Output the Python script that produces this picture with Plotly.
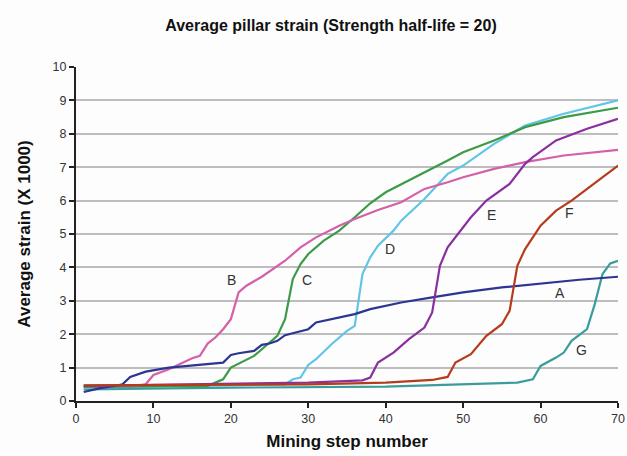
import plotly.graph_objects as go

# Mining step / average strain (x1000) for each pillar layout
steps_a = [1, 3, 5, 6, 7, 9, 12, 16, 19, 20, 21, 23, 24, 25, 26, 27, 29, 30, 31, 33, 36, 38, 42, 46, 50, 55, 60, 65, 70]
strain_a = [0.27, 0.38, 0.45, 0.5, 0.72, 0.88, 1.0, 1.08, 1.15, 1.38, 1.43, 1.5, 1.68, 1.72, 1.8, 1.97, 2.08, 2.15, 2.35, 2.45, 2.6, 2.75, 2.95, 3.1, 3.25, 3.4, 3.52, 3.63, 3.72]

steps_b = [1, 8, 9, 10, 12, 14, 15, 16, 17, 18, 19, 20, 21, 22, 24, 27, 29, 31, 34, 36, 39, 42, 45, 48, 50, 54, 58, 63, 70]
strain_b = [0.45, 0.46, 0.5, 0.78, 0.95, 1.18, 1.28, 1.35, 1.72, 1.9, 2.15, 2.45, 3.25, 3.45, 3.72, 4.2, 4.6, 4.9, 5.25, 5.45, 5.72, 5.95, 6.35, 6.55, 6.7, 6.95, 7.15, 7.35, 7.52]

steps_c = [1, 17, 18, 19, 20, 21, 23, 24, 25, 26, 27, 28, 29, 30, 32, 34, 36, 38, 40, 43, 45, 48, 50, 54, 58, 63, 70]
strain_c = [0.42, 0.45, 0.55, 0.65, 1.0, 1.12, 1.35, 1.55, 1.75, 1.95, 2.45, 3.65, 4.1, 4.4, 4.8, 5.1, 5.5, 5.92, 6.25, 6.6, 6.85, 7.2, 7.45, 7.8, 8.2, 8.5, 8.78]

steps_d = [1, 27, 28, 29, 30, 31, 33, 35, 36, 37, 38, 39, 41, 42, 45, 46, 48, 50, 54, 58, 63, 70]
strain_d = [0.4, 0.5, 0.65, 0.7, 1.08, 1.25, 1.7, 2.1, 2.25, 3.8, 4.3, 4.65, 5.1, 5.4, 6.05, 6.3, 6.8, 7.05, 7.7, 8.25, 8.6, 9.0]

steps_e = [1, 30, 37, 38, 39, 41, 43, 45, 46, 47, 48, 49, 51, 53, 56, 58, 59, 62, 66, 70]
strain_e = [0.45, 0.55, 0.62, 0.7, 1.15, 1.45, 1.85, 2.2, 2.65, 4.05, 4.6, 4.9, 5.5, 6.0, 6.5, 7.1, 7.3, 7.8, 8.15, 8.45]

steps_f = [1, 30, 40, 46, 48, 49, 51, 53, 55, 56, 57, 58, 60, 62, 64, 66, 68, 70]
strain_f = [0.47, 0.5, 0.55, 0.63, 0.72, 1.15, 1.4, 1.95, 2.3, 2.7, 4.05, 4.55, 5.25, 5.7, 6.0, 6.35, 6.72, 7.05]

steps_g = [1, 20, 40, 52, 57, 59, 60, 62, 63, 64, 66, 67, 68, 69, 70]
strain_g = [0.35, 0.4, 0.43, 0.5, 0.55, 0.65, 1.05, 1.3, 1.45, 1.8, 2.15, 2.9, 3.8, 4.12, 4.2]

curve_names = ["A", "B", "C", "D", "E", "F", "G"]
curve_colors = ["#2c3590", "#d460a9", "#3c9a48", "#62c5e6", "#8a2fa0", "#b63b1d", "#3a9d9c"]

# Label anchor (step, strain) for each curve letter
label_steps = [62.5, 20.1, 29.8, 40.6, 53.7, 63.8, 65.3]
label_strain = [3.24, 3.62, 3.62, 4.55, 5.57, 5.62, 1.53]

series = [
    (steps_a, strain_a), (steps_b, strain_b), (steps_c, strain_c), (steps_d, strain_d),
    (steps_e, strain_e), (steps_f, strain_f), (steps_g, strain_g),
]

font_family = "Liberation Sans, Arial, sans-serif"

fig = go.Figure()
draw_order = [6, 3, 2, 1, 0, 4, 5]
for i in draw_order:
    xs, ys = series[i]
    fig.add_trace(go.Scatter(
        x=xs, y=ys, mode="lines", name=curve_names[i],
        line=dict(color=curve_colors[i], width=2.2),
    ))

for name, lx, ly in zip(curve_names, label_steps, label_strain):
    fig.add_annotation(x=lx, y=ly, text=name, showarrow=False,
                       font=dict(family=font_family, size=14, color="#333333"))

fig.update_layout(
    width=627, height=456,
    margin=dict(l=76, r=9, t=67, b=55),
    paper_bgcolor="#fdfdfd", plot_bgcolor="#fdfdfd",
    showlegend=False,
    font=dict(family=font_family, size=12, color="#333333"),
    title=dict(
        text="<b>Average pillar strain (Strength half-life = 20)</b>",
        x=331 / 627, xanchor="center", y=1 - 25 / 456, yanchor="middle",
        font=dict(family=font_family, size=16, color="#111111"),
    ),
)

fig.update_xaxes(
    range=[0, 70], tickmode="array", tickvals=[0, 10, 20, 30, 40, 50, 60, 70],
    showgrid=False, zeroline=False, automargin=False,
    showline=True, linecolor="#222222", linewidth=2,
    ticks="outside", ticklen=5, tickwidth=2, tickcolor="#222222",
    tickfont=dict(size=12.5, color="#333333"),
    title=dict(text="<b>Mining step number</b>", standoff=10,
               font=dict(family=font_family, size=17, color="#111111")),
)

fig.update_yaxes(
    range=[0, 10], tickmode="array", tickvals=list(range(0, 11)),
    showgrid=True, gridcolor="#bdbdbd", gridwidth=2, zeroline=False, automargin=False,
    showline=True, linecolor="#222222", linewidth=2,
    ticks="outside", ticklen=5, tickwidth=2, tickcolor="#222222",
    tickfont=dict(size=12.5, color="#333333"),
    title=dict(text="<b>Average strain (X 1000)</b>", standoff=18,
               font=dict(family=font_family, size=17, color="#111111")),
)

fig.write_html("out.html")
